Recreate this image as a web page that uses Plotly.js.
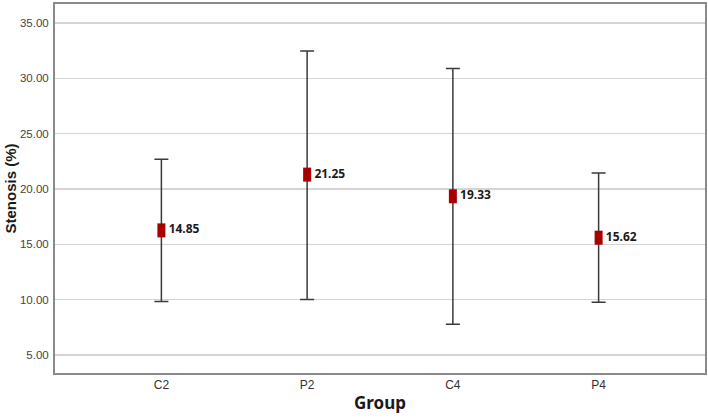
<!DOCTYPE html>
<html>
<head>
<meta charset="utf-8">
<script src="https://cdn.plot.ly/plotly-3.0.1.min.js"></script>
<style>
  html, body { margin: 0; padding: 0; background: #fff; }
  #plot { width: 708px; height: 419px; }
</style>
</head>
<body>
<div id="plot"></div>
<script>
// groups and values
var groups = ["C2", "P2", "C4", "P4"];
var means = [16.26, 21.30, 19.34, 15.60];
var upper = [22.69, 32.48, 30.90, 21.44];
var lower = [9.84, 10.02, 7.78, 9.76];
var labels = ["14.85", "21.25", "19.33", "15.62"];

var trace = {
    x: groups,
    y: means,
    type: "scatter",
    mode: "markers+text",
    text: labels,
    textposition: "middle right",
    textfont: { family: "Noto Sans, sans-serif", size: 12, color: "#1a1a1a", weight: "bold" },
    marker: {
        symbol: "line-ns",
        size: 10,
        color: "#a80000",
        line: { color: "#a80000", width: 8 }
    },
    error_y: {
        type: "data",
        symmetric: false,
        array: upper.map((u, i) => u - means[i]),
        arrayminus: lower.map((l, i) => means[i] - l),
        color: "#3a3a3a",
        thickness: 1.5,
        width: 7
    },
    cliponaxis: false,
    hoverinfo: "none"
};

var layout = {
    width: 708,
    height: 419,
    margin: { l: 55, r: 3, t: 4, b: 46 },
    paper_bgcolor: "#ffffff",
    plot_bgcolor: "#ffffff",
    showlegend: false,
    xaxis: {
        type: "category",
        range: [-0.73, 3.73],
        showgrid: false,
        showline: true,
        linecolor: "#8a8a8a",
        linewidth: 2,
        mirror: true,
        ticks: "",
        tickfont: { family: "Liberation Sans, Arial, sans-serif", size: 12, color: "#333" },
        title: { text: "Group", font: { family: "Noto Sans, sans-serif", size: 17, color: "#1a1a1a", weight: "bold" }, standoff: 6 }
    },
    yaxis: {
        range: [3.37, 36.72],
        tickvals: [5, 10, 15, 20, 25, 30, 35],
        tickformat: ".2f",
        showgrid: true,
        gridcolor: "#d4d4d4",
        gridwidth: 1.5,
        zeroline: false,
        showline: true,
        linecolor: "#8a8a8a",
        linewidth: 2,
        mirror: true,
        ticks: "",
        ticklabelstandoff: 2,
        tickfont: { family: "Liberation Sans, Arial, sans-serif", size: 11.5, color: "#444" },
        title: { text: "Stenosis (%)", font: { family: "Liberation Sans, Arial, sans-serif", size: 15, color: "#1a1a1a", weight: "bold" }, standoff: 0 }
    }
};

Plotly.newPlot("plot", [trace], layout, { displayModeBar: false, staticPlot: true });
</script>
</body>
</html>
